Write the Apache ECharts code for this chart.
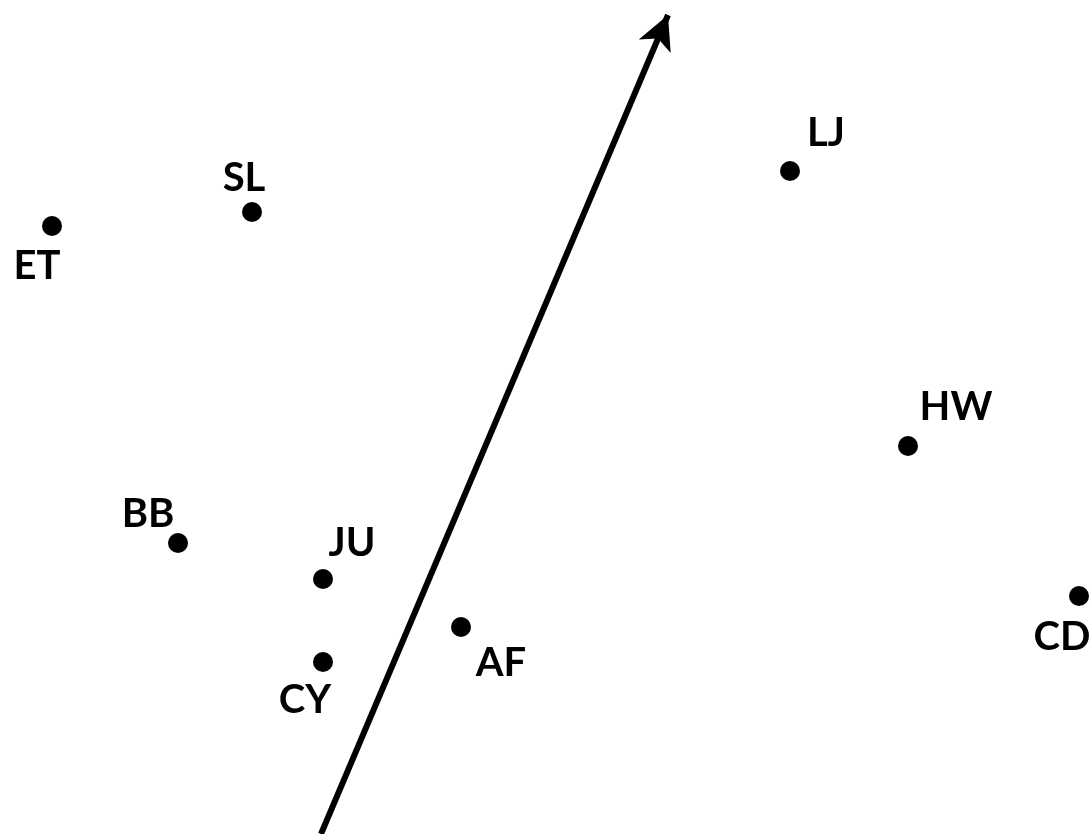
<!DOCTYPE html>
<html>
<head>
<meta charset="utf-8">
<script src="https://cdn.jsdelivr.net/npm/echarts@6/dist/echarts.min.js"></script>
<style>
  html, body { margin: 0; padding: 0; background: #fff; }
  #chart { width: 1090px; height: 834px; }
</style>
</head>
<body>
<div id="chart"></div>
<script>
// sites and their scores on the two plotted axes
const names = ['ET', 'SL', 'LJ', 'HW', 'BB', 'JU', 'CY', 'AF', 'CD']
const xValues = [52, 252, 790, 908, 178, 323, 323, 461, 1079]
const yValues = [608, 622, 663, 388, 291, 255, 172, 207, 238]

// direction arrow (start, end)
const arrowFrom = [321, 0]
const arrowTo = [668, 819]

// where each label sits relative to its dot
const labelOffset = {
  ET: [-15, 40],
  SL: [-8, -34],
  LJ: [36, -38],
  HW: [48, -39],
  BB: [-30, -29],
  JU: [29, -36],
  CY: [-18, 38],
  AF: [40, 36],
  CD: [-17, 41]
}

const chart = echarts.init(document.getElementById('chart'))

const points = names.map((n, i) => ({
  name: n,
  value: [xValues[i], yValues[i]],
  label: { offset: labelOffset[n] }
}))

const option = {
  animation: false,
  grid: { left: 0, right: 0, top: 0, bottom: 0 },
  xAxis: { type: 'value', min: 0, max: 1090, show: false },
  yAxis: { type: 'value', min: 0, max: 834, show: false },
  series: [
    {
      type: 'scatter',
      symbol: 'circle',
      symbolSize: 20,
      itemStyle: { color: '#000', opacity: 1 },
      label: {
        show: true,
        position: 'inside',
        formatter: '{b}',
        color: '#000',
        opacity: 1,
        fontFamily: 'Lato',
        fontWeight: 'bold',
        fontSize: 40,
        align: 'center',
        verticalAlign: 'middle'
      },
      data: points,
      markLine: {
        silent: true,
        symbol: ['none', 'arrow'],
        symbolSize: [26, 34],
        label: { show: false },
        lineStyle: { color: '#000', width: 6, type: 'solid', opacity: 1 },
        data: [[{ coord: arrowFrom }, { coord: arrowTo }]]
      }
    }
  ]
}

chart.setOption(option)
</script>
</body>
</html>
